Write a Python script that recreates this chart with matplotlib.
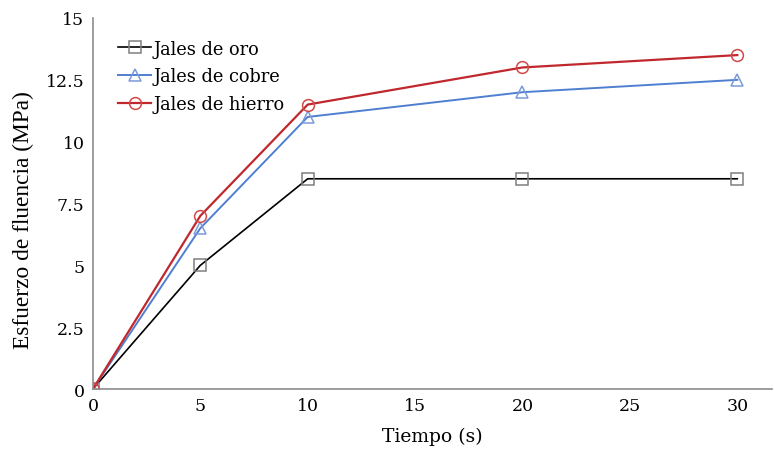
import matplotlib
matplotlib.use("Agg")
import matplotlib.pyplot as plt

tiempo = [0, 5, 10, 20, 30]
oro = [0, 5, 8.5, 8.5, 8.5]
cobre = [0, 6.5, 11, 12, 12.5]
hierro = [0, 7, 11.5, 13, 13.5]

y_ticks = [0, 2.5, 5, 7.5, 10, 12.5, 15]
y_tick_labels = ["0", "2.5", "5", "7.5", "10", "12.5", "15"]
x_ticks = [0, 5, 10, 15, 20, 25, 30]

plt.rcParams["font.family"] = ["DejaVu Serif"]

fig = plt.figure(figsize=(7.74, 4.52), dpi=100)
ax = fig.add_axes([0.120, 0.137, 0.877, 0.821])

ax.plot(tiempo, oro, color="black", lw=1.2, marker="s", ms=8.5,
        mfc="none", mec="#7f7f7f", mew=1.1, label="Jales de oro")
ax.plot(tiempo, cobre, color="#4f7fd0", lw=1.4, marker="^", ms=8.5,
        mfc="none", mec="#7a9ad8", mew=1.1, label="Jales de cobre")
ax.plot(tiempo, hierro, color="#c0282d", lw=1.6, marker="o", ms=8.5,
        mfc="none", mec="#d04a4a", mew=1.1, label="Jales de hierro")

ax.set_xlim(0, 31.6)
ax.set_ylim(0, 15)
ax.set_xticks(x_ticks)
ax.set_yticks(y_ticks)
ax.set_yticklabels(y_tick_labels)
ax.tick_params(length=0, labelsize=12.5, pad=6)

for side in ["top", "right"]:
    ax.spines[side].set_visible(False)
for side in ["left", "bottom"]:
    ax.spines[side].set_color("#8c8c8c")
    ax.spines[side].set_linewidth(1.2)

ax.set_xlabel("Tiempo (s)", fontsize=13.5, labelpad=9)
ax.set_ylabel("Esfuerzo de fluencia (MPa)", fontsize=16.8,
              family=["Liberation Serif"])
ax.yaxis.set_label_coords(-0.087, 0.458)

ax.legend(loc="upper left", bbox_to_anchor=(0.013, 0.985), frameon=False,
          fontsize=12.8, handlelength=1.9, handletextpad=0.12, labelspacing=0.55)

fig.savefig("out.png", dpi=100)
